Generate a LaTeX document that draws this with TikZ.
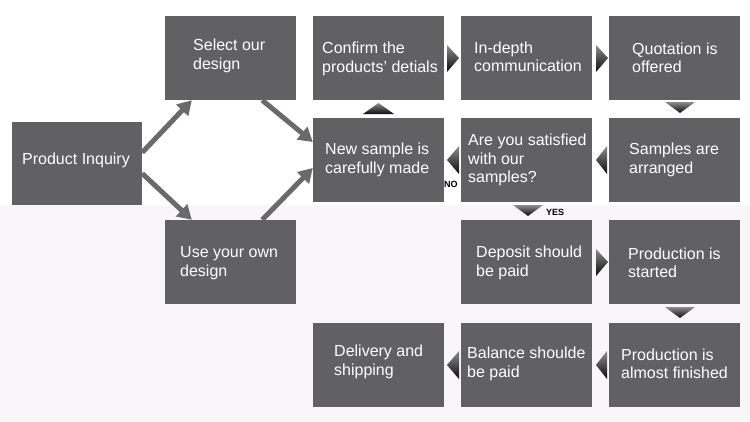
\documentclass[tikz,border=0pt]{standalone}
\usepackage{fontspec}
\setmainfont{Liberation Sans}
\usetikzlibrary{arrows.meta,calc}
\definecolor{boxc}{HTML}{616062}
\definecolor{bgl}{HTML}{F8F6F8}
\definecolor{arr}{HTML}{6A6A6A}
\begin{document}
\begin{tikzpicture}[x=1pt,y=-1pt,
 box/.style={fill=boxc,draw=none,minimum width=131pt,minimum height=84pt,inner sep=0pt},
 txt/.style={anchor=west,align=left,text=white,font=\fontsize{16}{18.5}\selectfont,inner sep=0pt},
 garrow/.style={draw=arr,line width=5pt,-{Triangle[length=14pt,width=16pt]}},
 tri/.style={top color=black!45,bottom color=black!95,draw=none},
 lbl/.style={font=\fontsize{9}{9}\selectfont\bfseries,inner sep=0pt}]
\useasboundingbox (0,0) rectangle (750,421);
\fill[white] (0,0) rectangle (750,205);
\fill[bgl] (0,205) rectangle (750,421);
% boxes
\node[box,minimum width=130pt,minimum height=83pt] (pi) at (77,163.5) {};
\node[box] (sel) at (230.5,58) {};
\node[box] (use) at (230.5,262) {};
\node[box] (con) at (378.5,58) {};
\node[box] (ind) at (526.5,58) {};
\node[box] (quo) at (674.5,58) {};
\node[box] (ns) at (378.5,160) {};
\node[box] (sat) at (526.5,160) {};
\node[box] (sam) at (674.5,160) {};
\node[box] (dep) at (526.5,262) {};
\node[box] (pst) at (674.5,262) {};
\node[box] (pal) at (674.5,365) {};
\node[box] (bal) at (526.5,365) {};
\node[box] (del) at (378.5,365) {};
% texts
\node[txt] (tpi) at (22,160) {Product Inquiry};
\node[txt] (tsel) at (193,56) {Select our\\design};
\node[txt] (tuse) at (180,263) {Use your own\\design};
\node[txt] (tcon) at (322,59) {Confirm the\\products' detials};
\node[txt] (tind) at (474,57) {In-depth\\communication};
\node[txt] (tquo) at (632,58) {Quotation is\\offered};
\node[txt] (tns) at (325,160) {New sample is\\carefully made};
\node[txt] (tsat) at (468,160) {Are you satisfied\\with our\\samples?};
\node[txt] (tsam) at (629,160) {Samples are\\arranged};
\node[txt] (tdep) at (476,263) {Deposit should\\be paid};
\node[txt] (tpst) at (628,263) {Production is\\started};
\node[txt] (tpal) at (621,364) {Production is\\almost finished};
\node[txt] (tbal) at (467,364) {Balance shoulde\\be paid};
\node[txt] (tdel) at (334,362) {Delivery and\\shipping};
% gray arrows
\draw[garrow] ([yshift=11pt]pi.east) -- ([xshift=27pt]sel.south west);
\draw[garrow] ([yshift=-10pt]pi.east) -- ([xshift=27pt]use.north west);
\draw[garrow] ([xshift=-34pt]sel.south east) -- ([yshift=18pt]ns.west);
\draw[garrow] ([xshift=-34pt]use.north east) -- ([yshift=-8pt]ns.west);
% triangles
\shade[tri] (447,45) -- (459,58) -- (447,72) -- cycle;
\shade[tri] (596,45) -- (608,58) -- (596,72) -- cycle;
\shade[tri] (665,102) -- (695,102) -- (680,113) -- cycle;
\shade[tri] (607,146) -- (596,160) -- (607,174) -- cycle;
\shade[tri] (459,146) -- (447,160) -- (459,174) -- cycle;
\shade[tri] (363,114) -- (394,114) -- (378.5,103) -- cycle;
\shade[tri] (513,205) -- (543,205) -- (528,216) -- cycle;
\shade[tri] (596,249) -- (608,262) -- (596,276) -- cycle;
\shade[tri] (665,307) -- (695,307) -- (680,318) -- cycle;
\shade[tri] (607,351) -- (596,365) -- (607,379) -- cycle;
\shade[tri] (459,351) -- (447,365) -- (459,379) -- cycle;
\node[lbl,anchor=west] (no) at (444,184) {NO};
\node[lbl,anchor=west] (yes) at (546,212) {YES};
\end{tikzpicture}
\end{document}
